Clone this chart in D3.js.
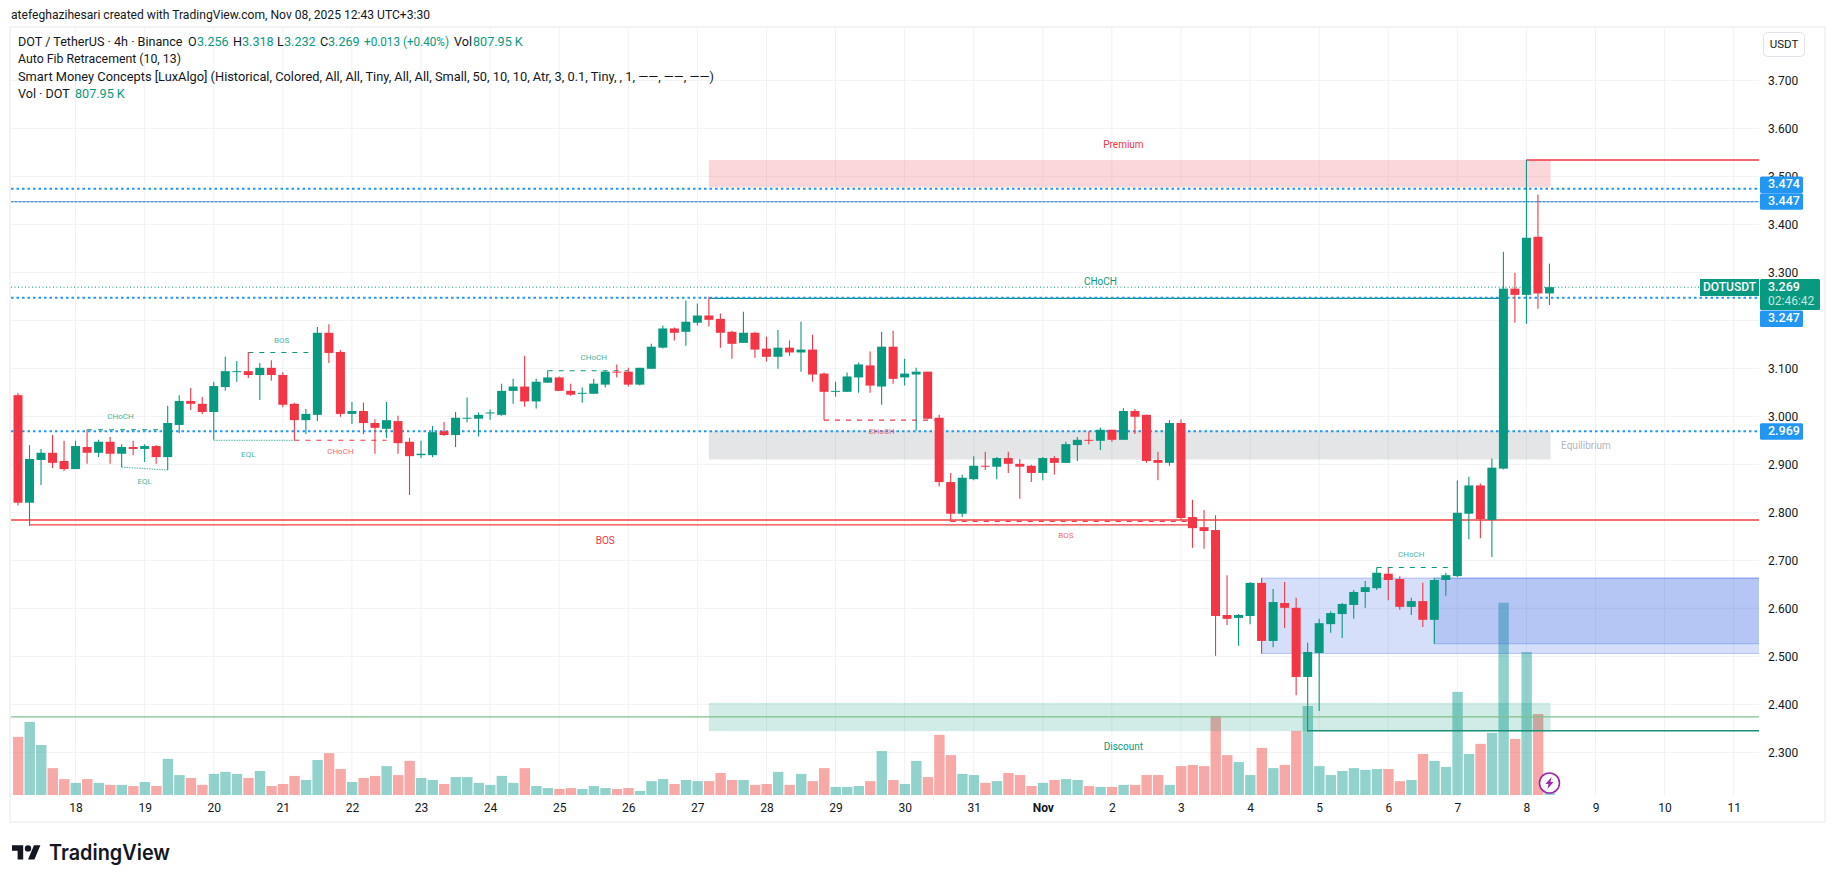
<!DOCTYPE html>
<html>
<head>
<meta charset="utf-8">
<script src="https://cdn.jsdelivr.net/npm/d3@7"></script>
<style>
  html, body { margin: 0; background: #fff; }
  svg { display: block; }
  text { font-family: Roboto, "Open Sans", sans-serif; }
</style>
</head>
<body>
<svg id="chart"></svg>
<script>
// 4h candles
var opens = [
  3.044,2.820,2.909,2.924,2.907,2.890,2.936,2.924,2.947,2.922,
  2.936,2.932,2.938,2.915,2.982,3.032,3.026,3.009,3.061,3.092,
  3.094,3.086,3.101,3.086,3.026,2.992,3.003,3.174,3.134,3.005,
  3.011,2.986,2.974,2.990,2.947,2.919,2.919,2.969,2.961,2.995,
  2.995,3.006,3.003,3.053,3.062,3.031,3.070,3.081,3.053,3.047,
  3.047,3.066,3.093,3.093,3.066,3.099,3.143,3.183,3.176,3.195,
  3.210,3.203,3.176,3.153,3.174,3.141,3.124,3.143,3.133,3.139,
  3.089,3.051,3.051,3.081,3.106,3.062,3.145,3.081,3.087,3.093,
  2.997,2.863,2.797,2.869,2.897,2.895,2.913,2.901,2.897,2.882,
  2.913,2.903,2.940,2.951,2.949,2.972,2.951,3.011,3.003,2.909,
  2.903,2.986,2.790,2.769,2.763,2.586,2.580,2.584,2.653,2.532,
  2.611,2.601,2.457,2.507,2.567,2.588,2.607,2.634,2.642,2.672,
  2.661,2.603,2.615,2.576,2.659,2.667,2.797,2.856,2.784,2.891,
  3.266,3.253,3.374,3.256];
var closes = [
  2.820,2.911,2.924,2.903,2.890,2.938,2.924,2.947,2.922,2.936,
  2.932,2.938,2.915,2.986,3.032,3.026,3.009,3.063,3.094,3.094,
  3.086,3.101,3.086,3.024,2.992,3.005,3.174,3.132,3.005,3.011,
  2.986,2.976,2.992,2.944,2.917,2.922,2.967,2.961,2.997,2.997,
  3.003,3.008,3.053,3.062,3.031,3.072,3.081,3.053,3.045,3.049,
  3.068,3.093,3.091,3.066,3.101,3.145,3.183,3.174,3.197,3.210,
  3.201,3.174,3.151,3.174,3.139,3.124,3.143,3.133,3.139,3.087,
  3.051,3.053,3.083,3.108,3.064,3.145,3.078,3.089,3.093,2.995,
  2.863,2.797,2.872,2.897,2.895,2.913,2.901,2.895,2.882,2.913,
  2.903,2.942,2.951,2.949,2.972,2.951,3.011,2.999,2.907,2.903,
  2.986,2.788,2.767,2.761,2.584,2.578,2.586,2.653,2.532,2.613,
  2.601,2.457,2.509,2.569,2.590,2.609,2.634,2.644,2.674,2.659,
  2.603,2.615,2.576,2.659,2.669,2.799,2.856,2.786,2.893,3.266,
  3.253,3.372,3.256,3.269];
var highs = [
  3.049,2.940,2.932,2.961,2.949,2.949,2.972,2.951,2.957,2.942,
  2.949,2.942,2.940,3.022,3.044,3.059,3.040,3.072,3.124,3.115,
  3.134,3.111,3.117,3.092,3.028,3.015,3.186,3.192,3.138,3.030,
  3.028,2.994,3.030,3.001,2.955,2.949,2.980,2.988,3.009,3.039,
  3.008,3.014,3.068,3.078,3.126,3.078,3.095,3.083,3.068,3.060,
  3.078,3.095,3.108,3.101,3.101,3.151,3.189,3.185,3.241,3.235,
  3.249,3.214,3.178,3.218,3.176,3.166,3.180,3.158,3.197,3.170,
  3.091,3.072,3.091,3.112,3.135,3.176,3.178,3.120,3.101,3.093,
  3.003,2.882,2.878,2.917,2.926,2.915,2.926,2.911,2.899,2.915,
  2.917,2.947,2.957,2.969,2.976,2.972,3.017,3.015,3.003,2.926,
  2.992,2.994,2.826,2.805,2.794,2.669,2.588,2.655,2.663,2.640,
  2.655,2.622,2.528,2.578,2.594,2.611,2.638,2.657,2.685,2.685,
  2.667,2.622,2.653,2.663,2.674,2.866,2.874,2.860,2.912,3.343,
  3.299,3.534,3.462,3.318];
var lows = [
  2.814,2.772,2.857,2.892,2.886,2.890,2.901,2.915,2.901,2.894,
  2.919,2.905,2.901,2.888,2.965,3.013,3.005,2.951,3.053,3.072,
  3.080,3.034,3.074,3.019,2.950,2.963,2.990,3.111,2.999,2.984,
  2.963,2.922,2.955,2.922,2.836,2.913,2.915,2.959,2.936,2.987,
  2.958,2.993,3.001,3.026,3.020,3.016,3.070,3.053,3.043,3.028,
  3.047,3.060,3.081,3.062,3.064,3.099,3.141,3.158,3.147,3.189,
  3.187,3.143,3.120,3.153,3.122,3.114,3.099,3.126,3.093,3.072,
  2.992,3.041,3.051,3.049,3.049,3.024,3.068,3.064,2.970,2.995,
  2.854,2.781,2.790,2.867,2.888,2.869,2.882,2.828,2.863,2.867,
  2.878,2.903,2.907,2.942,2.930,2.947,2.951,2.963,2.903,2.867,
  2.897,2.784,2.726,2.724,2.501,2.565,2.522,2.567,2.506,2.519,
  2.559,2.419,2.343,2.386,2.549,2.538,2.578,2.601,2.638,2.617,
  2.597,2.586,2.561,2.526,2.626,2.665,2.744,2.746,2.707,2.889,
  3.195,3.193,3.224,3.232];
// volume in millions of DOT
var volumes = [
  20.1,25.3,17.3,9.3,5.5,4.2,5.5,4.2,3.5,3.5,
  3.1,4.5,3.1,12.5,6.9,5.9,3.5,7.3,8.0,7.3,
  5.9,8.3,3.1,3.8,6.6,5.2,12.1,14.5,9.0,4.5,
  5.9,6.6,10.0,6.9,11.8,5.9,5.2,3.8,6.2,6.2,
  4.2,3.5,6.6,4.2,9.3,3.1,2.4,2.1,2.4,2.1,
  3.1,2.4,2.1,2.4,1.4,4.8,5.5,3.8,5.2,4.8,
  4.8,7.6,5.2,5.2,3.5,3.8,8.0,3.5,7.3,4.8,
  9.3,2.8,2.8,3.1,4.8,15.2,5.2,3.8,11.8,6.2,
  20.8,13.8,7.3,6.9,4.2,4.8,7.6,6.9,3.1,4.2,
  5.2,5.5,5.2,3.1,2.8,2.8,3.5,3.5,6.9,6.9,
  3.5,10.0,10.4,10.0,27.3,13.8,11.4,6.9,16.3,9.3,
  10.4,22.2,30.8,10.0,6.9,8.3,9.3,8.7,9.0,9.0,
  4.8,5.2,14.2,11.8,9.7,35.7,14.2,17.7,21.5,66.5,
  19.4,49.5,28.0,0.81];

var priceTicks = [2.3,2.4,2.5,2.6,2.7,2.8,2.9,3.0,3.1,3.2,3.3,3.4,3.5,3.6,3.7];
var dayLabels = ['18','19','20','21','22','23','24','25','26','27','28','29','30','31','Nov','2','3','4','5','6','7','8','9','10','11'];
var firstDayCandle = 5, candlesPerDay = 6;

// horizontal levels
var fibLevels = [3.474, 3.447, 3.247, 2.969];
var lastPrice = 3.269;

// premium / equilibrium / discount and order blocks
var zoneNames = ['Premium', 'Equilibrium', 'Discount'];
var zoneStart = 60, zoneEnd = 133.1;
var zoneTops = [3.534, 2.970, 2.403];
var zoneBottoms = [3.477, 2.910, 2.344];
var blockStarts = [108, 123];
var blockTops = [2.663, 2.663];
var blockBottoms = [2.506, 2.526];

// small structure labels: [from, to, price, label, at candle, label offset, kind]
var structure = [
  [6, 13, 2.972, 'CHoCH', 8.9, -13, 'up'],
  [20, 26, 3.133, 'BOS', 22.9, -12, 'up'],
  [46, 53, 3.095, 'CHoCH', 50, -13, 'up'],
  [118, 125, 2.685, 'CHoCH', 121, -13, 'up'],
  [24, 32, 2.950, 'CHoCH', 28, 12, 'down'],
  [70, 80, 2.992, 'CHoCH', 75, 12, 'down'],
  [81, 102, 2.781, 'BOS', 91, 14, 'down']
];
var equalLows = [
  [9, 13, 2.894, 2.888, 'EQL', 11, 15],
  [17, 24, 2.950, 2.950, 'EQL', 20, 15]
];

var width = 1835, height = 883;
var paneLeft = 11, paneRight = 1759, paneTop = 28, paneBottom = 796, frameRight = 1824, frameBottom = 821;
var upColor = '#089981', downColor = '#f23645', blue = '#2196f3', ink = '#131722';

var svg = d3.select('#chart').attr('width', width).attr('height', height);

var x = d3.scaleLinear().domain([0, 149]).range([18, 1733.7]);
var y = d3.scaleLinear().domain([3, 2.3]).range([416.3, 752.3]);
var vol = d3.scaleLinear().domain([0, 100]).range([795, 506]);
var candles = d3.range(opens.length);
var isUp = (i) => closes[i] >= opens[i];
var dayTicks = dayLabels.map((d, k) => firstDayCandle + k * candlesPerDay);

// frame
svg.append('rect').attr('x', 10).attr('y', 27).attr('width', frameRight - 9).attr('height', frameBottom - 26)
  .attr('fill', 'none').attr('stroke', '#f2f3f5').attr('stroke-width', 2);

svg.append('clipPath').attr('id', 'pane').append('rect')
  .attr('x', paneLeft).attr('y', paneTop).attr('width', paneRight - paneLeft).attr('height', paneBottom - paneTop);
var pane = svg.append('g').attr('clip-path', 'url(#pane)');

// grid
pane.append('g').selectAll('line').data(priceTicks).join('line')
  .attr('x1', paneLeft).attr('x2', paneRight).attr('y1', y).attr('y2', y)
  .attr('stroke', '#f1f2f4').attr('stroke-width', 1);
pane.append('g').selectAll('line').data(dayTicks).join('line')
  .attr('x1', x).attr('x2', x).attr('y1', paneTop).attr('y2', paneBottom)
  .attr('stroke', '#f1f2f4').attr('stroke-width', 1);

// volume
pane.append('g').selectAll('rect').data(candles).join('rect')
  .attr('x', (i) => x(i) - 5).attr('width', 10.4)
  .attr('y', (i) => vol(volumes[i])).attr('height', (i) => vol(0) - vol(volumes[i]))
  .attr('fill', (i) => isUp(i) ? 'rgba(38,166,154,.5)' : 'rgba(239,83,80,.5)');

// zones
var zoneFill = ['rgba(242,54,69,.2)', 'rgba(120,123,134,.2)', 'rgba(8,153,129,.19)'];
pane.append('g').selectAll('rect').data(zoneNames).join('rect')
  .attr('x', x(zoneStart)).attr('width', x(zoneEnd) - x(zoneStart))
  .attr('y', (d, k) => y(zoneTops[k])).attr('height', (d, k) => y(zoneBottoms[k]) - y(zoneTops[k]))
  .attr('fill', (d, k) => zoneFill[k]);
blockStarts.forEach(function (s, k) {
  pane.append('rect').attr('x', x(s)).attr('width', paneRight - x(s) + 3)
    .attr('y', y(blockTops[k])).attr('height', y(blockBottoms[k]) - y(blockTops[k]))
    .attr('fill', 'rgba(49,97,224,.2)').attr('stroke', 'rgba(49,97,224,.3)');
});

// structure lines
function hline(parent, from, to, price, color, w, dash) {
  return parent.append('line').attr('x1', from).attr('x2', to).attr('y1', y(price)).attr('y2', y(price))
    .attr('stroke', color).attr('stroke-width', w).attr('stroke-dasharray', dash || null);
}
hline(pane, paneLeft, paneRight, 2.784, '#f23f3f', 1.3);
hline(pane, x(1), x(102) + 2, 2.774, '#f23f3f', 1.3);
hline(pane, paneLeft, paneRight, 2.374, '#81c08a', 1.2);
hline(pane, x(112), paneRight, 2.345, '#1a8f7a', 1.4);
hline(pane, x(60), x(129), 3.2455, '#0f8f7c', 1.2);
hline(pane, x(131), paneRight, 3.534, downColor, 1.3);
hline(pane, paneLeft, paneRight, 3.447, '#8197bd', 1);

// fib levels (blue dots) and last price
fibLevels.forEach(function (p) {
  hline(pane, paneLeft, paneRight, p, blue, p === 3.447 ? 1 : 2, p === 3.447 ? '2 2' : '2.5 3');
});
hline(pane, paneLeft, paneRight, lastPrice, upColor, 1, '1 2.5');

structure.forEach(function (s) {
  var color = s[6] === 'up' ? upColor : downColor;
  hline(pane, x(s[0]), x(s[1]), s[2], color, 1.1, '5 6');
  pane.append('text').attr('x', x(s[4])).attr('y', y(s[2]) + s[5]).attr('text-anchor', 'middle')
    .attr('dominant-baseline', 'middle').attr('font-size', 8).attr('fill', color).attr('opacity', 0.75).text(s[3]);
});
equalLows.forEach(function (s) {
  pane.append('line').attr('x1', x(s[0])).attr('x2', x(s[1])).attr('y1', y(s[2])).attr('y2', y(s[3]))
    .attr('stroke', upColor).attr('stroke-width', 1).attr('stroke-dasharray', '1.5 1').attr('opacity', 0.7);
  pane.append('text').attr('x', x(s[5])).attr('y', y(s[2]) + s[6]).attr('text-anchor', 'middle')
    .attr('dominant-baseline', 'middle').attr('font-size', 8).attr('fill', upColor).attr('opacity', 0.75).text(s[4]);
});

// candles
var candleColor = (i) => isUp(i) ? upColor : downColor;
pane.append('g').selectAll('line').data(candles).join('line')
  .attr('x1', x).attr('x2', x)
  .attr('y1', (i) => y(highs[i])).attr('y2', (i) => y(lows[i]))
  .attr('stroke', candleColor).attr('stroke-width', 1.1);
pane.append('g').selectAll('rect').data(candles).join('rect')
  .attr('x', (i) => x(i) - 4.5).attr('width', 9)
  .attr('y', (i) => y(Math.max(opens[i], closes[i])))
  .attr('height', (i) => Math.max(1, Math.abs(y(opens[i]) - y(closes[i]))))
  .attr('fill', candleColor);

// big zone labels
var bigLabel = (tx, ty, t, color, size) => pane.append('text').attr('x', tx).attr('y', ty).attr('text-anchor', 'middle')
  .attr('dominant-baseline', 'middle').attr('font-size', size || 10).attr('fill', color).text(t);
bigLabel(x(96), y(3.534) - 15, 'Premium', downColor);
bigLabel(x(96), y(2.344) + 16, 'Discount', upColor);
bigLabel(1586, 446, 'Equilibrium', '#b2b5be');
bigLabel(x(94), y(3.248) - 15, 'CHoCH', upColor);
bigLabel(x(51), y(2.774) + 17, 'BOS', downColor);

// price axis
var priceAxis = d3.axisRight(y).tickValues(priceTicks).tickFormat(d3.format('.3f')).tickSize(0).tickPadding(9);
var pa = svg.append('g').attr('transform', 'translate(' + paneRight + ',0)').call(priceAxis);
pa.select('.domain').remove();
pa.selectAll('text').attr('font-size', 12).attr('fill', ink).style('font-family', 'Roboto');

// time axis
var timeAxis = d3.axisBottom(x).tickValues(dayTicks).tickFormat((d, k) => dayLabels[k]).tickSize(0).tickPadding(7);
var ta = svg.append('g').attr('transform', 'translate(0,' + paneBottom + ')').call(timeAxis);
ta.select('.domain').remove();
ta.selectAll('text').attr('font-size', 12).attr('fill', ink).style('font-family', 'Roboto')
  .attr('font-weight', (d, k) => dayLabels[k] === 'Nov' ? 700 : 400);

// price badges
function badge(price, label) {
  var cy = y(price);
  svg.append('rect').attr('x', paneRight + 1).attr('y', cy - 8).attr('width', 43).attr('height', 16.5).attr('rx', 1.5).attr('fill', blue);
  svg.append('text').attr('x', paneRight + 9).attr('y', cy + 0.5).attr('dominant-baseline', 'middle')
    .attr('font-size', 12.5).attr('font-weight', 500).attr('fill', '#fff').text(label);
}
badge(3.483, '3.474');
badge(3.448, '3.447');
badge(3.204, '3.247');
badge(2.969, '2.969');

svg.append('rect').attr('x', 1700).attr('y', 279).attr('width', 59).attr('height', 17).attr('fill', upColor);
svg.append('text').attr('x', 1729.5).attr('y', 288).attr('text-anchor', 'middle').attr('dominant-baseline', 'middle')
  .attr('font-size', 12).attr('font-weight', 500).attr('fill', '#fff').text('DOTUSDT');
svg.append('rect').attr('x', paneRight + 1).attr('y', 279).attr('width', 60).attr('height', 31).attr('rx', 1.5).attr('fill', upColor);
svg.append('text').attr('x', paneRight + 9).attr('y', 287.5).attr('dominant-baseline', 'middle')
  .attr('font-size', 12.5).attr('font-weight', 500).attr('fill', '#fff').text('3.269');
svg.append('text').attr('x', paneRight + 9).attr('y', 302).attr('dominant-baseline', 'middle')
  .attr('font-size', 12).attr('fill', 'rgba(255,255,255,.78)').text('02:46:42');

// USDT button
svg.append('rect').attr('x', 1763.5).attr('y', 32.5).attr('width', 41).attr('height', 24).attr('rx', 4)
  .attr('fill', '#fff').attr('stroke', '#e0e3eb');
svg.append('text').attr('x', 1784).attr('y', 45).attr('text-anchor', 'middle').attr('dominant-baseline', 'middle')
  .attr('font-size', 11.5).attr('fill', ink).text('USDT');

// header and legend
svg.append('text').attr('x', 11).attr('y', 19).attr('font-size', 12.1).attr('fill', ink)
  .text('atefeghazihesari created with TradingView.com, Nov 08, 2025 12:43 UTC+3:30');

var legendGreen = '#089981';
function legendLine(ty, size) {
  return svg.append('text').attr('x', 18).attr('y', ty).attr('font-size', size).attr('fill', ink);
}
var line1 = legendLine(46, 12.6);
line1.append('tspan').text('DOT / TetherUS · 4h · Binance');
[[188, 'O'], [197, '3.256', 1], [233, 'H'], [242, '3.318', 1], [277, 'L'], [284, '3.232', 1], [320, 'C'], [328, '3.269', 1], [454, 'Vol'], [473, '807.95 K', 1]]
  .forEach(function (p) {
    line1.append('tspan').attr('x', p[0]).attr('fill', p[2] ? legendGreen : ink).text(p[1]);
  });
svg.append('text').attr('x', 364).attr('y', 46).attr('font-size', 12.6).attr('fill', legendGreen)
  .attr('textLength', 85).attr('lengthAdjust', 'spacingAndGlyphs').text('+0.013 (+0.40%)');
legendLine(63, 12.3).text('Auto Fib Retracement (10, 13)');
legendLine(81, 12.6).attr('textLength', 696).attr('lengthAdjust', 'spacingAndGlyphs')
  .text('Smart Money Concepts [LuxAlgo] (Historical, Colored, All, All, Tiny, All, All, Small, 50, 10, 10, Atr, 3, 0.1, Tiny, , 1, ——, ——, ——)');
var line4 = legendLine(98, 12.6);
line4.append('tspan').text('Vol · DOT');
line4.append('tspan').attr('x', 75).attr('fill', legendGreen).text('807.95 K');

// lightning marker on the last bar
var bolt = svg.append('g').attr('transform', 'translate(' + x(133) + ',783)');
bolt.append('circle').attr('r', 10).attr('fill', '#fff').attr('stroke', '#9c27b0').attr('stroke-width', 1.6);
bolt.append('path').attr('d', 'M2-6L-4 1H-1L-2 6L4-1H1Z').attr('fill', '#9c27b0');

// logo
var logo = svg.append('g').attr('transform', 'translate(12,842) scale(.8)').attr('fill', '#131722');
logo.append('path').attr('d', 'M14 22H7V11H0V4h14v18zM28 22h-8l7.5-18h8L28 22z');
logo.append('circle').attr('cx', 20).attr('cy', 8).attr('r', 4);
svg.append('text').attr('x', 49).attr('y', 860).style('font-family', 'Inter').attr('font-size', 21).attr('font-weight', 600)
  .attr('textLength', 121).attr('lengthAdjust', 'spacingAndGlyphs').attr('fill', '#131722').text('TradingView');
</script>
</body>
</html>
